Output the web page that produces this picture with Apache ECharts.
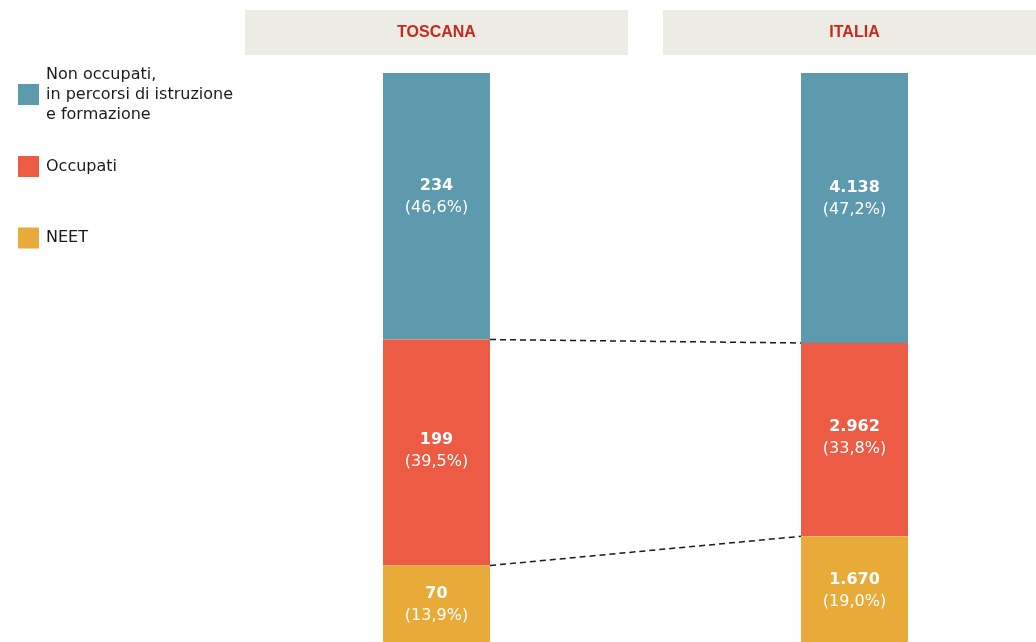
<!DOCTYPE html>
<html>
<head>
<meta charset="utf-8">
<script src="https://cdn.jsdelivr.net/npm/echarts@6/dist/echarts.min.js"></script>
<style>
  html, body { margin: 0; padding: 0; background: #ffffff; }
  #chart { width: 1036px; height: 642px; }
</style>
</head>
<body>
<div id="chart"></div>
<script>
// Territories (columns)
const categories = ['TOSCANA', 'ITALIA'];

// Series names, top to bottom of each column
const nameStudenti = 'Non occupati,\nin percorsi di istruzione\ne formazione';
const nameOccupati = 'Occupati';
const nameNeet = 'NEET';

// Absolute values (thousands)
const countsStudenti = [234, 4138];
const countsOccupati = [199, 2962];
const countsNeet = [70, 1670];

// Shares (%)
const pctStudenti = [46.6, 47.2];
const pctOccupati = [39.5, 33.8];
const pctNeet = [13.9, 19.0];

const COLORS = { studenti: '#5e9aae', occupati: '#ec5b43', neet: '#e8ab3a' };
const BAR_WIDTH = 107;
const FONT = '"DejaVu Sans", Roboto, sans-serif';

function fmtCount(n) {
  return String(n).replace(/\B(?=(\d{3})+(?!\d))/g, '.');
}
function fmtPct(p) {
  return '(' + p.toFixed(1).replace('.', ',') + '%)';
}
function makeLabel(counts, pcts, offsetY) {
  return {
    show: true,
    position: 'inside',
    offset: [0, offsetY],
    formatter: p => '{b|' + fmtCount(counts[p.dataIndex]) + '}\n{n|' + fmtPct(pcts[p.dataIndex]) + '}',
    rich: {
      b: { color: '#ffffff', fontFamily: FONT, fontWeight: 'bold', fontSize: 16, lineHeight: 22 },
      n: { color: '#ffffff', fontFamily: FONT, fontSize: 16, lineHeight: 22 }
    }
  };
}

// Boundaries between stacked segments, used for the dashed connectors
const cumStudenti = pctStudenti.slice();
const cumOccupati = pctStudenti.map((v, i) => +(v + pctOccupati[i]).toFixed(1));
const connectorData = [
  [0, cumStudenti[0], 1, cumStudenti[1]],
  [0, cumOccupati[0], 1, cumOccupati[1]]
];

const legendText = { color: '#1a1a1a', fontFamily: FONT, fontSize: 16, lineHeight: 20, padding: [0, 0, 0, 2] };
function legendFor(name, top) {
  return {
    data: [name], left: 18, top: top, orient: 'vertical', padding: 0,
    itemWidth: 21, itemHeight: 21, icon: 'rect',
    textStyle: legendText, selectedMode: true
  };
}

const chart = echarts.init(document.getElementById('chart'), null, { renderer: 'canvas' });
chart.setOption({
  animation: false,
  backgroundColor: '#ffffff',
  legend: [
    legendFor(nameStudenti, 64.5),
    legendFor(nameOccupati, 156),
    legendFor(nameNeet, 227.5)
  ],
  grid: { left: 227.5, width: 836, top: 73, height: 572, containLabel: false, outerBoundsMode: 'none' },
  xAxis: {
    type: 'category',
    position: 'top',
    data: categories,
    axisLine: { show: false },
    axisTick: { show: false },
    axisLabel: {
      interval: 0,
      margin: 18,
      color: '#c8281e',
      fontFamily: '"Liberation Sans", Arial, sans-serif',
      fontWeight: 'bold',
      fontSize: 16,
      backgroundColor: '#ecebe4',
      width: 383,
      height: 45,
      lineHeight: 45,
      align: 'center'
    }
  },
  yAxis: {
    type: 'value', min: 0, max: 100, inverse: true,
    show: false, splitLine: { show: false }
  },
  series: [
    {
      name: nameStudenti, type: 'bar', stack: 'tot', barWidth: BAR_WIDTH,
      itemStyle: { color: COLORS.studenti },
      label: makeLabel(countsStudenti, pctStudenti, -9),
      data: pctStudenti
    },
    {
      name: nameOccupati, type: 'bar', stack: 'tot', barWidth: BAR_WIDTH,
      itemStyle: { color: COLORS.occupati },
      label: makeLabel(countsOccupati, pctOccupati, -2),
      data: pctOccupati
    },
    {
      name: nameNeet, type: 'bar', stack: 'tot', barWidth: BAR_WIDTH,
      itemStyle: { color: COLORS.neet },
      label: makeLabel(countsNeet, pctNeet, 0),
      data: pctNeet
    },
    {
      // dashed connectors between matching segment boundaries
      type: 'custom',
      silent: true,
      z: 5,
      encode: { x: [0, 2], y: [1, 3] },
      data: connectorData,
      renderItem: function (params, api) {
        const a = api.coord([api.value(0), api.value(1)]);
        const b = api.coord([api.value(2), api.value(3)]);
        const half = BAR_WIDTH / 2;
        return {
          type: 'line',
          shape: { x1: a[0] + half, y1: a[1], x2: b[0] - half, y2: b[1] },
          style: { stroke: '#1a1a1a', lineWidth: 1.5, lineDash: [6, 4] }
        };
      }
    }
  ]
});
</script>
</body>
</html>
